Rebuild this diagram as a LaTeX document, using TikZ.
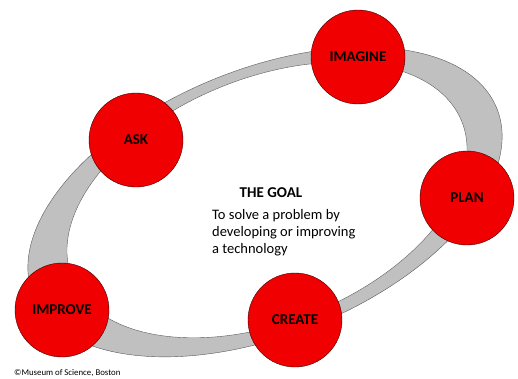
\documentclass[tikz,border=0pt]{standalone}
\usepackage{fontspec}
\setmainfont{Carlito}
\definecolor{ringgray}{RGB}{192,192,192}
\definecolor{stagered}{RGB}{240,0,0}

\begin{document}
\begin{tikzpicture}[x=1pt,y=-1pt,
  stage/.style={circle,draw=black!75!red,fill=stagered,minimum size=94pt,inner sep=0pt,
    font=\fontsize{15}{18}\selectfont\bfseries}]
\useasboundingbox (0,0) rectangle (518,378);
\draw[fill=ringgray,draw=black!65,rotate around={22:(265,202)}] (265,202) ellipse [x radius=250,y radius=133];
\draw[fill=white,draw=black!65,rotate around={22:(267,200)}] (267,200) ellipse [x radius=210,y radius=122];
\node[stage] (imagine) at (358,57) {IMAGINE};
\node[stage] (ask) at (136,140) {ASK};
\node[stage] (plan) at (467,198) {PLAN};
\node[stage] (improve) at (62,310) {IMPROVE};
\node[stage] (create) at (295,320) {CREATE};
\node[font=\fontsize{15}{18}\selectfont\bfseries] (goal) at (271,193) {THE GOAL};
\node[anchor=north west,align=left,inner sep=0pt,font=\fontsize{14.5}{17}\selectfont] (aim) at (212,209)
  {To solve a problem by\\developing or improving\\a technology};
\node[anchor=west,inner sep=0pt,font=\fontsize{8.8}{10}\selectfont] (credit) at (14,373) {©Museum of Science, Boston};
\end{tikzpicture}
\end{document}
